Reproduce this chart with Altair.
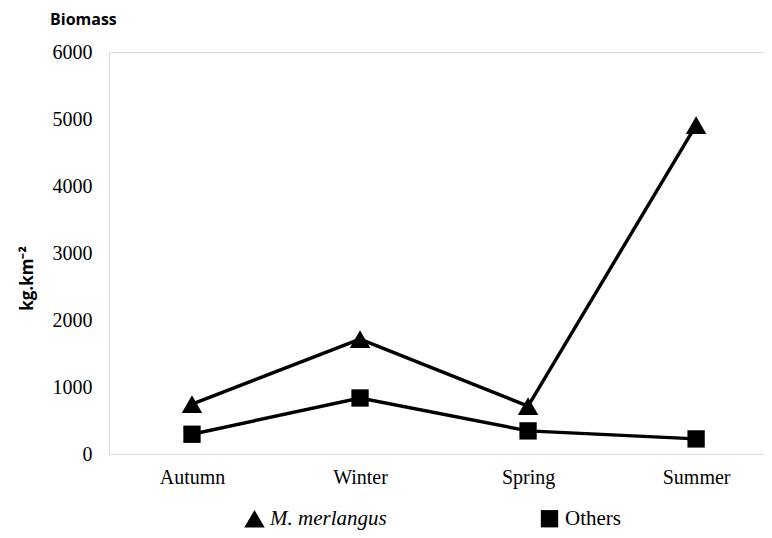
import altair as alt
import pandas as pd

seasons = ["Autumn", "Winter", "Spring", "Summer"]
merlangus = [745, 1715, 715, 4910]
others = [295, 836, 345, 225]
series_names = ["M. merlangus", "Others"]

rows = []
for name, vals in zip(series_names, [merlangus, others]):
    for s, v in zip(seasons, vals):
        rows.append({"Season": s, "Biomass": v, "Series": name})
df = pd.DataFrame(rows)

x = alt.X("Season:N", sort=seasons, title=None,
          scale=alt.Scale(type="point", padding=0.449, align=0.55),
          axis=alt.Axis(labelAngle=0, ticks=False, domainColor="#d9d9d9",
                        labelFont="Liberation Serif", labelFontSize=20,
                        labelColor="#000", labelPadding=13, grid=False))
y = alt.Y("Biomass:Q", title="kg.km⁻²",
          scale=alt.Scale(domain=[0, 6000]),
          axis=alt.Axis(values=[0, 1000, 2000, 3000, 4000, 5000, 6000], format="d",
                        ticks=False, grid=False, domainColor="#d9d9d9",
                        labelFont="Liberation Serif", labelFontSize=20,
                        labelColor="#000", labelPadding=17,
                        titleFont="Open Sans", titleFontSize=17,
                        titleFontWeight="bold", titleColor="#000",
                        titlePadding=16, titleY=226))
legend = alt.Legend(title=None, orient="none", direction="horizontal",
                    legendX=135, legendY=456,
                    labelFont="Liberation Serif", labelFontSize=21,
                    labelColor="#000",
                    labelFontStyle=alt.ExprRef(expr="datum.label == 'Others' ? 'normal' : 'italic'"),
                    symbolFillColor="#000", symbolStrokeColor="#000",
                    symbolStrokeWidth=0,
                    columnPadding=152, labelOffset=5)
shape = alt.Shape("Series:N",
                  scale=alt.Scale(domain=series_names, range=["triangle-up", "square"]),
                  legend=legend)
size = alt.Size("Series:N", scale=alt.Scale(domain=series_names, range=[420, 300]),
                legend=legend)

lines = alt.Chart(df).mark_line(strokeWidth=3.4, color="#000").encode(
    x=x, y=y, detail="Series:N")
points = alt.Chart(df).mark_point(filled=True, opacity=1, color="#000").encode(
    x=x, y=y, shape=shape, size=size)

chart = alt.layer(lines, points).properties(
    width=655, height=402,
    title=alt.TitleParams("Biomass", anchor="start", frame="group", dx=-59, offset=14,
                          font="Open Sans", fontSize=16, fontWeight="bold", color="#000"),
    autosize=alt.AutoSizeParams(type="none"),
    padding={"left": 101, "top": 44, "right": 0, "bottom": 76},
).configure_view(stroke=None).configure(background="white")

chart.save("out.html", embed_options={"renderer": "svg", "actions": False})
